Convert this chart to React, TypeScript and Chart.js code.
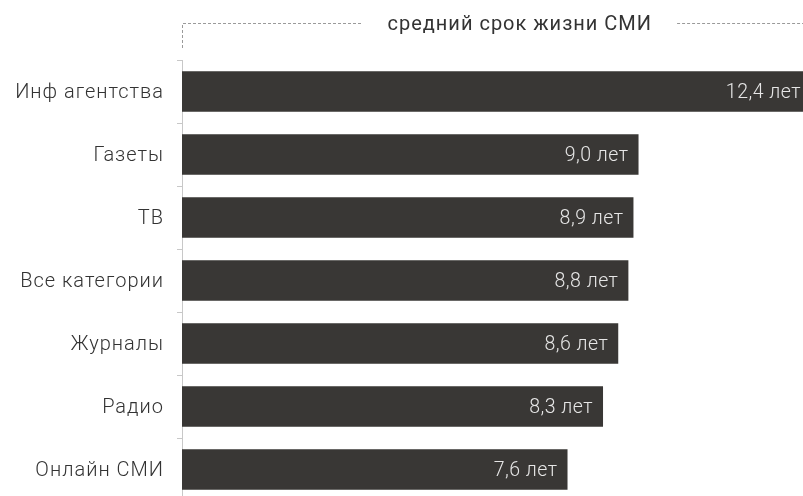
import React, { useEffect, useRef } from "react";
import { Chart, registerables } from "chart.js";

Chart.register(...registerables);

const categories: string[] = [
  "Инф агентства",
  "Газеты",
  "ТВ",
  "Все категории",
  "Журналы",
  "Радио",
  "Онлайн СМИ",
];
const lifespanYears: number[] = [12.4, 9.0, 8.9, 8.8, 8.6, 8.3, 7.6];
const unitLabel = "лет";
const titleText = "средний срок жизни СМИ";

const BAR_COLOR = "#393735";

const categoryLabels = {
  id: "categoryLabels",
  afterDraw(chart: any) {
    const { ctx } = chart;
    const yScale = chart.scales.y;
    ctx.save();
    ctx.font = "300 20px Roboto";
    (ctx as any).letterSpacing = "1px";
    ctx.fillStyle = "#333333";
    ctx.textAlign = "right";
    ctx.textBaseline = "middle";
    categories.forEach((label, i) => {
      const y = yScale.getPixelForTick(i);
      ctx.fillText(label, yScale.right - 18, y + 1);
    });
    ctx.restore();
  },
};

const valueLabels = {
  id: "valueLabels",
  afterDatasetsDraw(chart: any) {
    const { ctx } = chart;
    const meta = chart.getDatasetMeta(0);
    ctx.save();
    ctx.font = "300 19.5px Roboto";
    (ctx as any).letterSpacing = "0.5px";
    ctx.fillStyle = "#e6e6e6";
    ctx.textAlign = "right";
    ctx.textBaseline = "middle";
    meta.data.forEach((bar: any, i: number) => {
      const v = lifespanYears[i];
      const txt = v.toFixed(1).replace(".", ",") + " " + unitLabel;
      ctx.fillText(txt, bar.x - 10, bar.y + 1.5);
    });
    ctx.restore();
  },
};

const bracketTitle = {
  id: "bracketTitle",
  afterDraw(chart: any) {
    const { ctx, chartArea } = chart;
    const left = chartArea.left;
    const cx = left + (chartArea.right - left) * 0.537;
    const ty = 25;
    const ly = 23.5;
    ctx.save();
    ctx.font = "400 20px Roboto";
    (ctx as any).letterSpacing = "1px";
    ctx.fillStyle = "#333333";
    ctx.textAlign = "center";
    ctx.textBaseline = "middle";
    ctx.fillText(titleText, cx, ty);
    const w = ctx.measureText(titleText).width;
    ctx.strokeStyle = "#9a9a9a";
    ctx.lineWidth = 1;
    ctx.setLineDash([3, 2]);
    ctx.beginPath();
    ctx.moveTo(left + 0.5, chartArea.top - 12);
    ctx.lineTo(left + 0.5, ly);
    ctx.lineTo(cx - w / 2 - 25, ly);
    ctx.moveTo(cx + w / 2 + 25, ly);
    ctx.lineTo(chart.width, ly);
    ctx.stroke();
    ctx.restore();
  },
};

export default function App() {
  const canvasRef = useRef<HTMLCanvasElement | null>(null);

  useEffect(() => {
    if (!canvasRef.current) return;
    const chart = new Chart(canvasRef.current, {
      type: "bar",
      data: {
        labels: categories,
        datasets: [
          {
            data: lifespanYears,
            backgroundColor: BAR_COLOR,
            borderWidth: 0,
            barPercentage: 0.645,
            categoryPercentage: 1,
          },
        ],
      },
      options: {
        indexAxis: "y",
        animation: false,
        responsive: false,
        devicePixelRatio: 1,
        layout: { padding: { top: 60, right: 29, bottom: 9, left: 0 } },
        plugins: {
          legend: { display: false },
          tooltip: { enabled: false },
          title: { display: false },
        },
        scales: {
          x: {
            display: false,
            min: 0,
            max: 12.4,
          },
          y: {
            afterFit(scale: any) {
              scale.width = 182;
            },
            grid: {
              display: true,
              offset: true,
              drawOnChartArea: false,
              drawTicks: true,
              tickLength: 5,
              color: "#c8c8c8",
            },
            border: { display: true, color: "#c8c8c8", width: 1 },
            ticks: { display: false },
          },
        },
      },
      plugins: [valueLabels, categoryLabels, bracketTitle],
    });
    return () => chart.destroy();
  }, []);

  return (
    <div
      style={{
        position: "fixed",
        left: 0,
        top: 0,
        width: 803,
        height: 496,
        overflow: "hidden",
        background: "#ffffff",
      }}
    >
      <canvas
        ref={canvasRef}
        width={840}
        height={510}
        style={{ display: "block", width: 840, height: 510 }}
      />
    </div>
  );
}
